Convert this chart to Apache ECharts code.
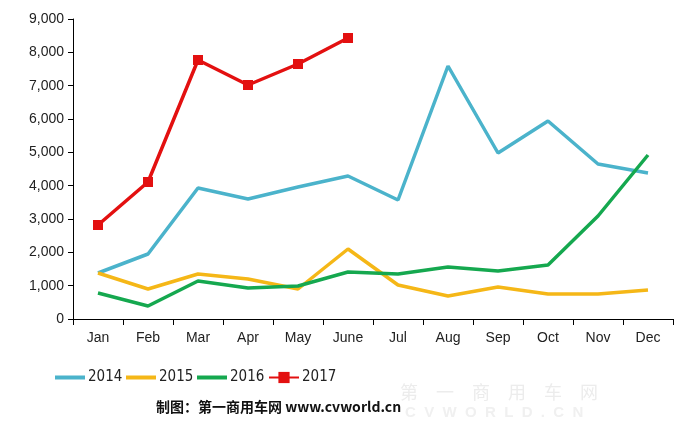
<!DOCTYPE html>
<html><head><meta charset="utf-8">
<script src="https://cdn.jsdelivr.net/npm/echarts@6/dist/echarts.min.js"></script>
<style>html,body{margin:0;padding:0;background:#fff}#c{width:690px;height:432px}</style>
</head><body><div id="c"></div>
<script>
const months = ['Jan','Feb','Mar','Apr','May','June','Jul','Aug','Sep','Oct','Nov','Dec'];
const s2014 = [1380,1950,3930,3600,3960,4290,3570,7590,4980,5940,4650,4380];
const s2015 = [1380,900,1350,1200,900,2100,1020,690,960,750,750,870];
const s2016 = [780,390,1140,930,990,1410,1350,1560,1440,1620,3090,4920];
const s2017 = [2820,4110,7770,7020,7650,8430];
const yTicks = [0,1000,2000,3000,4000,5000,6000,7000,8000,9000];

const chart = echarts.init(document.getElementById('c'));
const font = 'Liberation Sans, Arial, sans-serif';
const narrow = '"Liberation Sans Narrow", "DejaVu Sans Condensed", sans-serif';
function ln(name, data, color, extra) {
  return Object.assign({
    name, type: 'line', data, symbol: 'none',
    lineStyle: {color, width: 3.5}, itemStyle: {color},
    animation: false
  }, extra || {});
}
const legendText = {fontSize: 15, fontFamily: narrow, color: '#222', padding: [0,0,0,-2]};
function lg(name, left, isMarker) {
  return isMarker
    ? {left, top: 365, itemWidth: 30, itemHeight: 14, textStyle: legendText, data: [name]}
    : {left, top: 365, icon: 'rect', itemWidth: 30, itemHeight: 4, textStyle: legendText, data: [name]};
}
chart.setOption({
  animation: false,
  grid: {left: 73, right: 17, top: 19, bottom: 113},
  xAxis: {
    type: 'category', data: months, boundaryGap: true,
    axisLine: {lineStyle: {color: '#000', width: 1}},
    axisTick: {show: true, length: 6, lineStyle: {color: '#000'}},
    axisLabel: {color: '#222', fontSize: 14, fontFamily: font, margin: 12}
  },
  yAxis: {
    type: 'value', min: yTicks[0], max: yTicks[yTicks.length-1], interval: 1000,
    axisLine: {show: true, lineStyle: {color: '#000', width: 1}},
    axisTick: {show: true, length: 5, lineStyle: {color: '#000'}},
    splitLine: {show: false},
    axisLabel: {color: '#222', fontSize: 14, fontFamily: font, margin: 9,
      formatter: v => v.toLocaleString('en-US')}
  },
  legend: [lg('2014', 50), lg('2015', 121), lg('2016', 192), lg('2017', 263, true)],
  series: [
    ln('2014', s2014, '#4bb3cb'),
    ln('2015', s2015, '#f5b717'),
    ln('2016', s2016, '#15a84f'),
    ln('2017', s2017, '#e31010', {symbol: 'rect', symbolSize: 10})
  ],
  graphic: [
    {type: 'text', left: 156, top: 400, style: {text: '制图：第一商用车网 www.cvworld.cn', font: 'bold 14px "Noto Sans CJK SC", sans-serif', fill: '#111'}},
    {type: 'text', left: 400, top: 383, style: {text: '第　一　商　用　车　网', font: '18px "Noto Sans CJK SC", sans-serif', fill: '#ececec'}},
    {type: 'text', left: 405, top: 405, style: {text: 'C  V  W  O  R  L  D  .  C  N', font: 'bold 15px Liberation Sans, sans-serif', fill: '#f0f0f0'}}
  ]
});
</script></body></html>
